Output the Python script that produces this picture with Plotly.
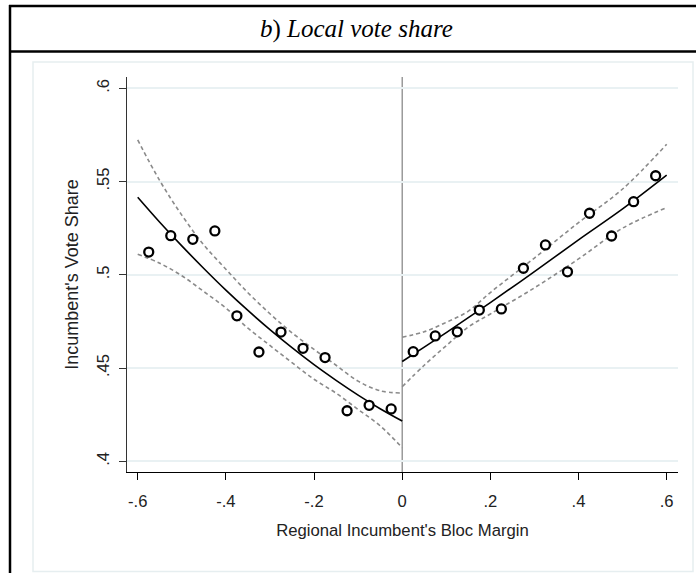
import plotly.graph_objects as go

# ---- data ----
bins_left = [-0.575, -0.525, -0.475, -0.425, -0.375, -0.325, -0.275, -0.225, -0.175, -0.125, -0.075, -0.025]
share_left = [0.5122, 0.5210, 0.5190, 0.5235, 0.4780, 0.4586, 0.4693, 0.4606, 0.4556, 0.4271, 0.4300, 0.4281]
bins_right = [0.025, 0.075, 0.125, 0.175, 0.225, 0.275, 0.325, 0.375, 0.425, 0.475, 0.525, 0.575]
share_right = [0.4588, 0.4672, 0.4694, 0.4811, 0.4817, 0.5035, 0.5160, 0.5016, 0.5330, 0.5208, 0.5392, 0.5531]

fit_x_left = [-0.60, -0.55, -0.50, -0.45, -0.40, -0.35, -0.30, -0.25, -0.20, -0.15, -0.10, -0.05, 0.00]
fit_left = [0.5416, 0.5282, 0.5155, 0.5034, 0.4918, 0.4809, 0.4706, 0.4609, 0.4518, 0.4434, 0.4355, 0.4282, 0.4216]
ci_hi_left = [0.5723, 0.5505, 0.5320, 0.5160, 0.5030, 0.4904, 0.4791, 0.4689, 0.4600, 0.4515, 0.4430, 0.4378, 0.4366]
ci_lo_left = [0.5110, 0.5062, 0.4995, 0.4910, 0.4822, 0.4714, 0.4621, 0.4529, 0.4440, 0.4365, 0.4278, 0.4190, 0.4073]

fit_x_right = [0.00, 0.05, 0.10, 0.15, 0.20, 0.30, 0.40, 0.50, 0.60]
fit_right = [0.4535, 0.4612, 0.4690, 0.4770, 0.4851, 0.5017, 0.5187, 0.5353, 0.5534]
ci_hi_right = [0.4665, 0.4695, 0.4745, 0.4805, 0.4905, 0.5090, 0.5280, 0.5460, 0.5700]
ci_lo_right = [0.4400, 0.4515, 0.4620, 0.4720, 0.4790, 0.4930, 0.5085, 0.5250, 0.5360]

x_ticks = [-0.6, -0.4, -0.2, 0, 0.2, 0.4, 0.6]
x_tick_labels = ["-.6", "-.4", "-.2", "0", ".2", ".4", ".6"]
y_ticks = [0.4, 0.45, 0.5, 0.55, 0.6]
y_tick_labels = [".4", ".45", ".5", ".55", ".6"]
cutoff = 0

title_text = "<i>b</i>) <i>Local vote share</i>"
x_title = "Regional Incumbent's Bloc Margin"
y_title = "Incumbent's Vote Share"

# ---- figure ----
W, H = 696, 573
L, R, T, B = 127, 18, 77, 101
pw, ph = W - L - R, H - T - B

def px_x(p):
    return (p - L) / pw

def px_y(p):
    return (H - B - p) / ph

fig = go.Figure()

dash_style = dict(color="#8a8a8a", width=1.6, dash="4px,3px")
for xs, lo, hi, fit in [(fit_x_left, ci_lo_left, ci_hi_left, fit_left),
                        (fit_x_right, ci_lo_right, ci_hi_right, fit_right)]:
    fig.add_trace(go.Scatter(x=xs, y=hi, mode="lines", line=dict(shape="spline", **dash_style),
                             showlegend=False, hoverinfo="skip"))
    fig.add_trace(go.Scatter(x=xs, y=lo, mode="lines", line=dict(shape="spline", **dash_style),
                             showlegend=False, hoverinfo="skip"))
    fig.add_trace(go.Scatter(x=xs, y=fit, mode="lines",
                             line=dict(color="black", width=1.6, shape="spline"),
                             showlegend=False, hoverinfo="skip"))

for xs, ys in [(bins_left, share_left), (bins_right, share_right)]:
    fig.add_trace(go.Scatter(x=xs, y=ys, mode="markers",
                             marker=dict(symbol="circle", size=9, color="white",
                                         line=dict(color="black", width=2.3)),
                             showlegend=False))

fig.add_vline(x=cutoff, line=dict(color="#808080", width=1.2), layer="below")

font_main = "Liberation Sans, Arial, sans-serif"

fig.update_layout(
    width=W, height=H,
    margin=dict(l=L, r=R, t=T, b=B),
    paper_bgcolor="white", plot_bgcolor="white",
    font=dict(family=font_main, size=16, color="#222222"),
    xaxis=dict(
        range=[-0.6243, 0.6257], tickvals=x_ticks, ticktext=x_tick_labels,
        showgrid=False, zeroline=False,
        showline=True, linecolor="black", linewidth=1.2,
        ticks="outside", ticklen=7, tickcolor="black", tickwidth=1,
        tickfont=dict(size=16.6), ticklabelstandoff=7,
        title=dict(text=x_title, font=dict(size=16.7), standoff=14),
    ),
    yaxis=dict(
        range=[0.39426, 0.60606], tickvals=y_ticks, ticktext=y_tick_labels,
        showgrid=True, gridcolor="#e9f1f3", gridwidth=1.5, zeroline=False,
        showline=True, linecolor="#333333", linewidth=1.2,
        ticks="outside", ticklen=7, tickcolor="#333333", tickwidth=1,
        tickangle=-90, tickfont=dict(size=16.6), ticklabelstandoff=3,
        title=dict(text=y_title, font=dict(size=18), standoff=10),
    ),
)

shapes = [
    # light inner graph-region border
    dict(type="rect", xref="paper", yref="paper",
         x0=px_x(33), x1=px_x(693), y0=px_y(571.5), y1=px_y(62),
         line=dict(color="#e6eef0", width=1.5), layer="below"),
    # black outer frame: top, title separator, left
    dict(type="line", xref="paper", yref="paper",
         x0=px_x(9), x1=px_x(710), y0=px_y(6), y1=px_y(6),
         line=dict(color="black", width=2.5)),
    dict(type="line", xref="paper", yref="paper",
         x0=px_x(9), x1=px_x(710), y0=px_y(51.5), y1=px_y(51.5),
         line=dict(color="black", width=2.5)),
    dict(type="line", xref="paper", yref="paper",
         x0=px_x(10), x1=px_x(10), y0=px_y(5), y1=px_y(600),
         line=dict(color="black", width=2.5)),
]
for s in shapes:
    fig.add_shape(**s)

fig.add_annotation(text=title_text, xref="paper", yref="paper",
                   x=px_x(356), y=px_y(29), showarrow=False,
                   xanchor="center", yanchor="middle",
                   font=dict(family="Liberation Serif, Times New Roman, serif", size=25, color="black"))

fig.write_html("out.html", config={"displayModeBar": False},
               post_script="document.body.style.margin='0';document.body.style.overflow='hidden';")
